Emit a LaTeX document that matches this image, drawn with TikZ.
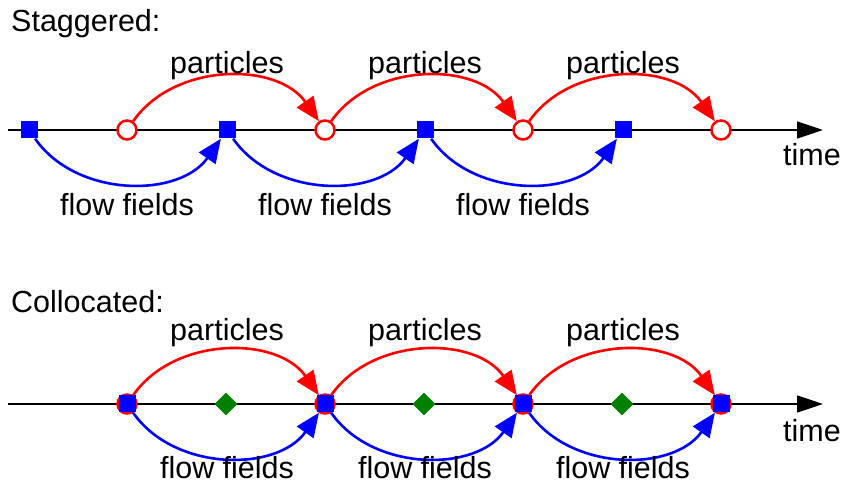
\documentclass[tikz,border=0pt]{standalone}
\usepackage{fontspec}
\setmainfont{Liberation Sans}
\usetikzlibrary{arrows.meta, shapes.geometric, positioning}

\begin{document}
\begin{tikzpicture}[
    x=1pt, y=1pt,
    txt/.style={font=\fontsize{30.5}{34}\selectfont, inner sep=0pt},
    axis/.style={-{Triangle[length=26pt, width=17pt]}, line width=1.5pt},
    sq/.style={rectangle, fill=blue, minimum size=17pt, inner sep=0pt},
    circ/.style={circle, draw=red, fill=white, line width=2.5pt, minimum size=19pt, inner sep=0pt},
    dia/.style={diamond, fill=green!50!black, minimum size=23pt, inner sep=0pt},
    part/.style={red, line width=2.6pt, -{Triangle[length=24pt, width=20pt]}},
    flow/.style={blue, line width=2.6pt, -{Triangle[length=24pt, width=20pt]}}
]
\useasboundingbox (0,0) rectangle (842,484);

% staggered
\node[txt, anchor=west] (stag) at (11,460) {Staggered:};
\coordinate (sa) at (8,354);
\coordinate (sb) at (823,354);
\draw[axis] (sa) -- (sb);
\node[txt] (stime) at (812,329) {time};
\foreach \i/\x in {1/29, 2/227, 3/425, 4/623}
  \node[sq] (s\i) at (\x,354) {};
\foreach \i/\x in {1/127, 2/325, 3/523, 4/721}
  \node[circ] (c\i) at (\x,354) {};
\foreach \i/\j in {1/2, 2/3, 3/4} {
  \draw[part] (c\i) to[out=55, in=125] (c\j);
  \draw[flow] (s\i) to[out=-55, in=-125] (s\j);
}
\foreach \x in {227, 425, 623}
  \node[txt] (sp\x) at (\x,418) {particles};
\foreach \x in {127, 325, 523}
  \node[txt] (sf\x) at (\x,279) {flow fields};

% collocated
\node[txt, anchor=west] (coll) at (11,182) {Collocated:};
\coordinate (ca) at (8,80);
\coordinate (cb) at (823,80);
\draw[axis] (ca) -- (cb);
\node[txt] (ctime) at (812,53) {time};
\foreach \i/\x in {1/226, 2/424, 3/622}
  \node[dia] (d\i) at (\x,80) {};
\foreach \i/\x in {1/127, 2/325, 3/523, 4/721} {
  \node[circ] (k\i) at (\x,80) {};
  \node[sq] (q\i) at (\x,80) {};
}
\foreach \i/\j in {1/2, 2/3, 3/4} {
  \draw[part] (k\i) to[out=55, in=125] (k\j);
  \draw[flow] (q\i) to[out=-55, in=-125] (q\j);
}
\foreach \x in {227, 425, 623} {
  \node[txt] (cp\x) at (\x,151) {particles};
  \node[txt] (cf\x) at (\x,16) {flow fields};
}
\end{tikzpicture}
\end{document}
